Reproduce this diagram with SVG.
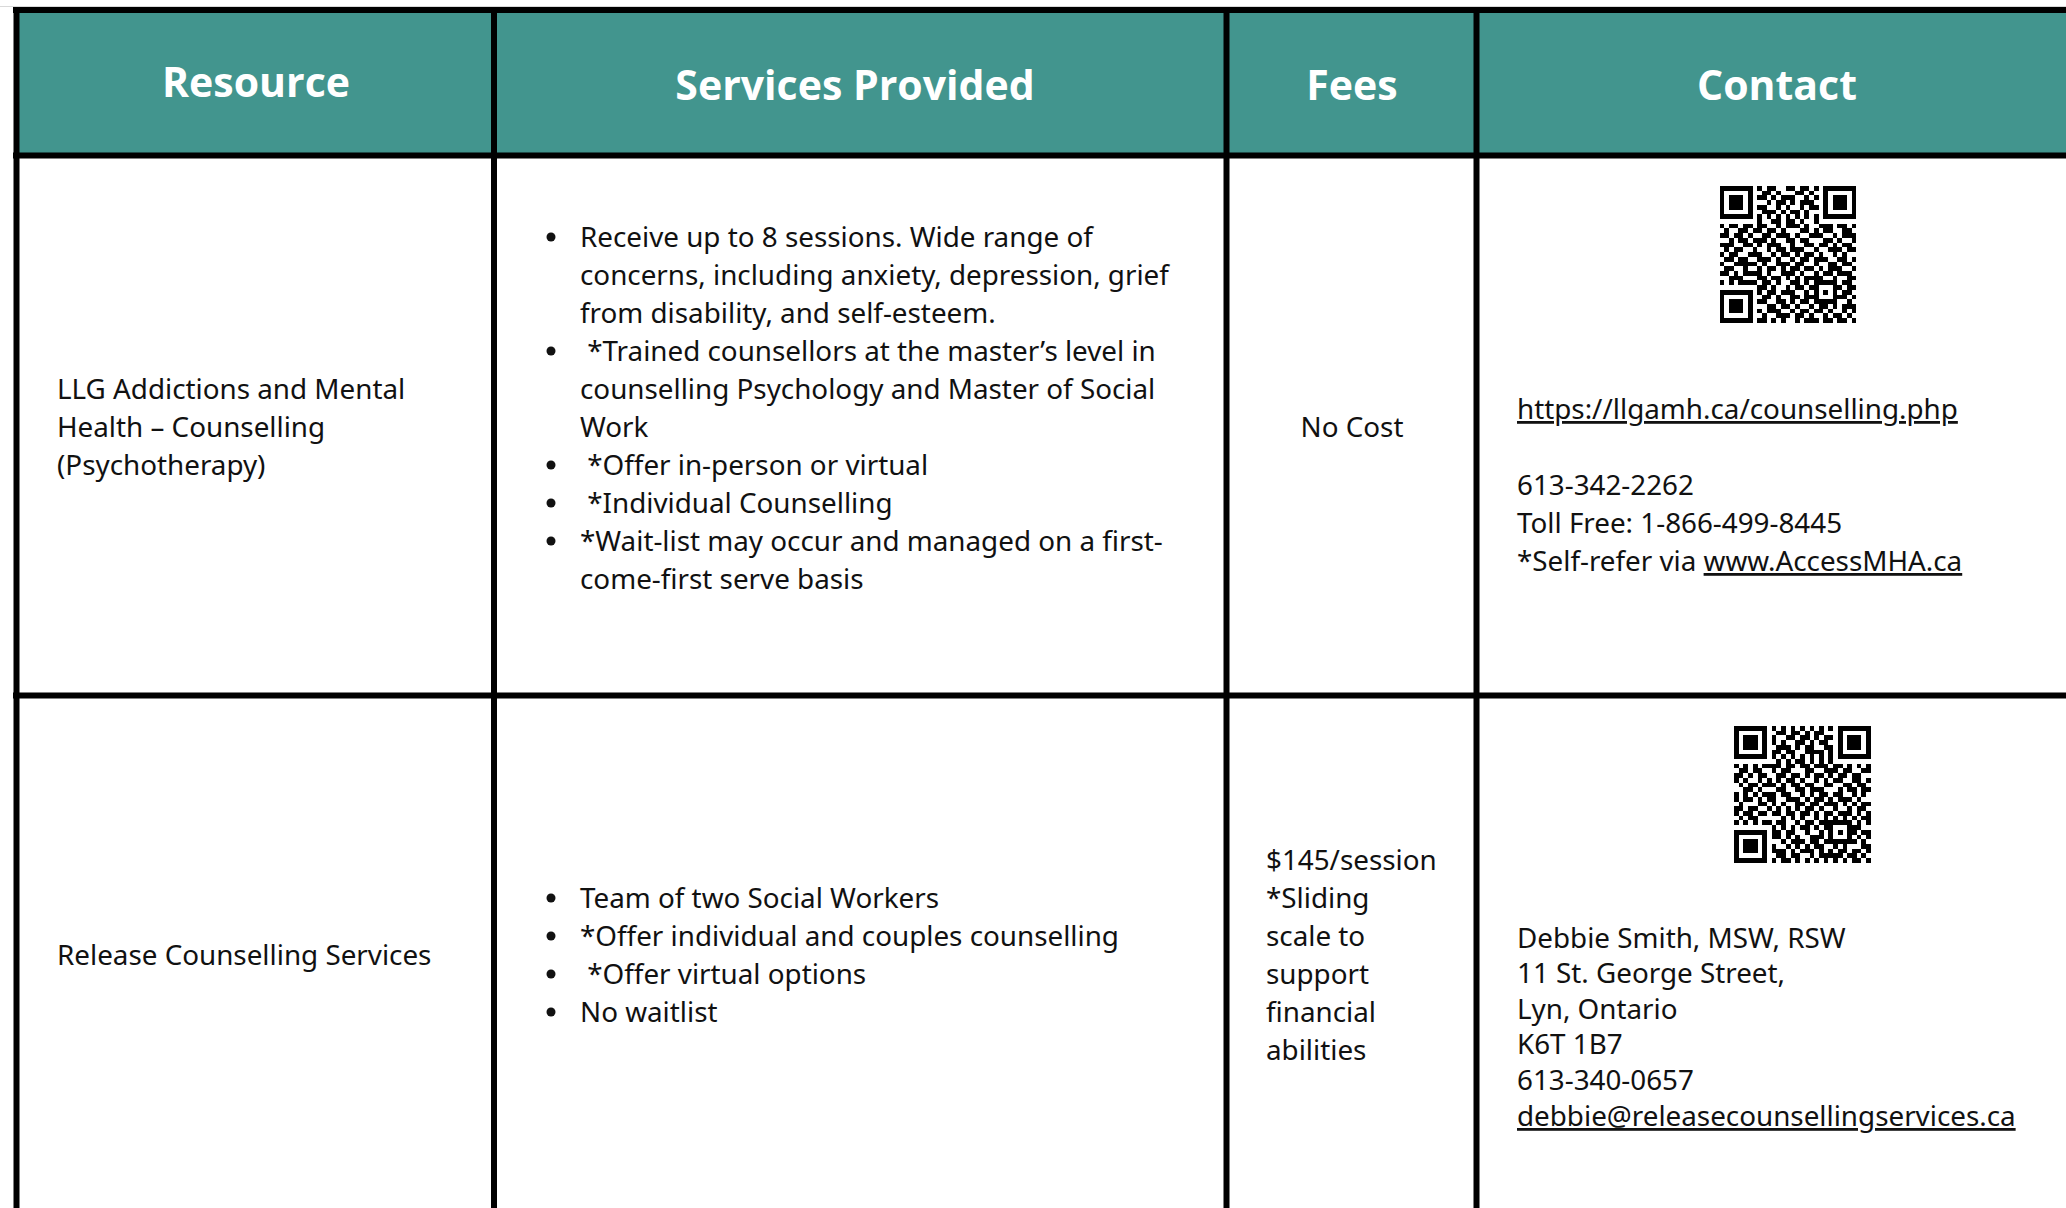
<svg xmlns="http://www.w3.org/2000/svg" xmlns:xlink="http://www.w3.org/1999/xlink" width="2066" height="1208" viewBox="0 0 2066 1208">
<style>
.hd{font-family:"Open Sans","Noto Sans",sans-serif;font-weight:700;font-size:41px;fill:#ffffff;text-anchor:middle}
.tx{font-family:"Noto Sans","Open Sans",sans-serif;font-size:27.8px;fill:#111111}
.ul{text-decoration:underline}
.bl{fill:#111111}
.ln{stroke:#000000;stroke-width:6;fill:none}
</style>
<defs>
<path id="qr" shape-rendering="crispEdges" fill="#000" d="M0 0h7v1h-7zM8 0h1v1h-1zM10 0h2v1h-2zM14 0h2v1h-2zM17 0h2v1h-2zM20 0h1v1h-1zM22 0h7v1h-7zM0 1h1v1h-1zM6 1h1v1h-1zM9 1h2v1h-2zM12 1h1v1h-1zM16 1h2v1h-2zM19 1h1v1h-1zM22 1h1v1h-1zM28 1h1v1h-1zM0 2h1v1h-1zM2 2h3v1h-3zM6 2h1v1h-1zM8 2h2v1h-2zM11 2h1v1h-1zM13 2h3v1h-3zM18 2h1v1h-1zM20 2h1v1h-1zM22 2h1v1h-1zM24 2h3v1h-3zM28 2h1v1h-1zM0 3h1v1h-1zM2 3h3v1h-3zM6 3h1v1h-1zM10 3h1v1h-1zM12 3h2v1h-2zM15 3h1v1h-1zM17 3h3v1h-3zM22 3h1v1h-1zM24 3h3v1h-3zM28 3h1v1h-1zM0 4h1v1h-1zM2 4h3v1h-3zM6 4h1v1h-1zM8 4h2v1h-2zM12 4h1v1h-1zM14 4h1v1h-1zM17 4h1v1h-1zM19 4h2v1h-2zM22 4h1v1h-1zM24 4h3v1h-3zM28 4h1v1h-1zM0 5h1v1h-1zM6 5h1v1h-1zM9 5h3v1h-3zM13 5h1v1h-1zM15 5h2v1h-2zM18 5h1v1h-1zM22 5h1v1h-1zM28 5h1v1h-1zM0 6h7v1h-7zM8 6h1v1h-1zM10 6h1v1h-1zM12 6h1v1h-1zM14 6h1v1h-1zM16 6h1v1h-1zM18 6h1v1h-1zM20 6h1v1h-1zM22 6h7v1h-7zM8 7h1v1h-1zM11 7h2v1h-2zM14 7h2v1h-2zM17 7h1v1h-1zM20 7h1v1h-1zM0 8h1v1h-1zM2 8h2v1h-2zM5 8h2v1h-2zM8 8h2v1h-2zM12 8h1v1h-1zM14 8h3v1h-3zM18 8h1v1h-1zM21 8h3v1h-3zM25 8h2v1h-2zM28 8h1v1h-1zM1 9h1v1h-1zM4 9h2v1h-2zM7 9h2v1h-2zM10 9h2v1h-2zM13 9h1v1h-1zM17 9h2v1h-2zM20 9h1v1h-1zM22 9h2v1h-2zM26 9h2v1h-2zM0 10h2v1h-2zM3 10h2v1h-2zM6 10h1v1h-1zM9 10h2v1h-2zM12 10h3v1h-3zM16 10h1v1h-1zM19 10h3v1h-3zM24 10h1v1h-1zM26 10h3v1h-3zM2 11h1v1h-1zM4 11h2v1h-2zM7 11h3v1h-3zM11 11h1v1h-1zM14 11h2v1h-2zM17 11h2v1h-2zM22 11h2v1h-2zM25 11h1v1h-1zM28 11h1v1h-1zM0 12h3v1h-3zM5 12h2v1h-2zM8 12h1v1h-1zM10 12h3v1h-3zM15 12h1v1h-1zM18 12h2v1h-2zM21 12h2v1h-2zM24 12h1v1h-1zM26 12h2v1h-2zM1 13h1v1h-1zM3 13h2v1h-2zM7 13h1v1h-1zM10 13h1v1h-1zM12 13h2v1h-2zM15 13h3v1h-3zM20 13h1v1h-1zM23 13h3v1h-3zM27 13h2v1h-2zM0 14h1v1h-1zM2 14h2v1h-2zM6 14h3v1h-3zM11 14h1v1h-1zM13 14h2v1h-2zM16 14h1v1h-1zM18 14h2v1h-2zM21 14h1v1h-1zM24 14h1v1h-1zM26 14h1v1h-1zM1 15h2v1h-2zM4 15h2v1h-2zM8 15h3v1h-3zM12 15h1v1h-1zM15 15h1v1h-1zM17 15h2v1h-2zM20 15h3v1h-3zM25 15h2v1h-2zM28 15h1v1h-1zM0 16h1v1h-1zM3 16h5v1h-5zM9 16h1v1h-1zM12 16h3v1h-3zM16 16h2v1h-2zM20 16h1v1h-1zM23 16h2v1h-2zM26 16h2v1h-2zM1 17h2v1h-2zM5 17h1v1h-1zM8 17h1v1h-1zM10 17h2v1h-2zM13 17h1v1h-1zM15 17h2v1h-2zM18 17h2v1h-2zM21 17h1v1h-1zM23 17h3v1h-3zM28 17h1v1h-1zM0 18h2v1h-2zM3 18h1v1h-1zM5 18h4v1h-4zM10 18h1v1h-1zM13 18h3v1h-3zM17 18h1v1h-1zM20 18h1v1h-1zM22 18h2v1h-2zM25 18h3v1h-3zM2 19h3v1h-3zM8 19h2v1h-2zM11 19h2v1h-2zM14 19h1v1h-1zM16 19h1v1h-1zM18 19h4v1h-4zM24 19h1v1h-1zM27 19h2v1h-2zM0 20h1v1h-1zM2 20h1v1h-1zM4 20h4v1h-4zM9 20h2v1h-2zM12 20h1v1h-1zM15 20h2v1h-2zM18 20h1v1h-1zM20 20h5v1h-5zM26 20h2v1h-2zM8 21h2v1h-2zM11 21h1v1h-1zM14 21h1v1h-1zM16 21h2v1h-2zM19 21h2v1h-2zM24 21h2v1h-2zM27 21h2v1h-2zM0 22h7v1h-7zM8 22h1v1h-1zM10 22h2v1h-2zM13 22h3v1h-3zM18 22h1v1h-1zM20 22h1v1h-1zM22 22h1v1h-1zM24 22h1v1h-1zM26 22h2v1h-2zM0 23h1v1h-1zM6 23h1v1h-1zM9 23h2v1h-2zM12 23h1v1h-1zM15 23h2v1h-2zM18 23h3v1h-3zM24 23h3v1h-3zM28 23h1v1h-1zM0 24h1v1h-1zM2 24h3v1h-3zM6 24h1v1h-1zM8 24h2v1h-2zM12 24h2v1h-2zM15 24h1v1h-1zM17 24h2v1h-2zM20 24h5v1h-5zM27 24h1v1h-1zM0 25h1v1h-1zM2 25h3v1h-3zM6 25h1v1h-1zM10 25h2v1h-2zM13 25h2v1h-2zM16 25h1v1h-1zM19 25h1v1h-1zM21 25h2v1h-2zM24 25h1v1h-1zM26 25h3v1h-3zM0 26h1v1h-1zM2 26h3v1h-3zM6 26h1v1h-1zM8 26h1v1h-1zM10 26h3v1h-3zM15 26h1v1h-1zM17 26h2v1h-2zM20 26h2v1h-2zM23 26h1v1h-1zM26 26h1v1h-1zM28 26h1v1h-1zM0 27h1v1h-1zM6 27h1v1h-1zM9 27h1v1h-1zM12 27h3v1h-3zM16 27h2v1h-2zM19 27h1v1h-1zM22 27h1v1h-1zM24 27h2v1h-2zM27 27h1v1h-1zM0 28h7v1h-7zM8 28h2v1h-2zM11 28h1v1h-1zM13 28h1v1h-1zM16 28h1v1h-1zM18 28h3v1h-3zM22 28h2v1h-2zM25 28h2v1h-2zM28 28h1v1h-1z"/>
</defs>
<rect x="0" y="0" width="2066" height="1208" fill="#ffffff"/>
<line x1="0" y1="6.5" x2="2066" y2="6.5" stroke="#d9d9d9" stroke-width="1"/>
<rect x="16" y="10" width="2050" height="145" fill="#42958e"/>

<g id="connectors">
<line class="ln" x1="13" y1="10" x2="2066" y2="10"/>
<line class="ln" x1="16.5" y1="7" x2="16.5" y2="1208"/>
<line class="ln" x1="494" y1="7" x2="494" y2="1208"/>
<line class="ln" x1="1226.5" y1="7" x2="1226.5" y2="1208"/>
<line class="ln" x1="1476.5" y1="7" x2="1476.5" y2="1208"/>
<line class="ln" x1="13" y1="155.5" x2="2066" y2="155.5"/>
<line class="ln" x1="13" y1="695.5" x2="2066" y2="695.5"/>
</g>

<g id="header">
<text class="hd" x="256" y="97">Resource</text>
<text class="hd" x="855" y="100">Services Provided</text>
<text class="hd" x="1352" y="100">Fees</text>
<text class="hd" x="1777" y="100">Contact</text>
</g>

<g id="row1-resource">
<text class="tx" x="57" y="399">LLG Addictions and Mental</text>
<text class="tx" x="57" y="437">Health – Counselling</text>
<text class="tx" x="57" y="475">(Psychotherapy)</text>
</g>

<g id="row1-services">
<circle class="bl" cx="551" cy="237" r="4.5"/>
<circle class="bl" cx="551" cy="351" r="4.5"/>
<circle class="bl" cx="551" cy="465" r="4.5"/>
<circle class="bl" cx="551" cy="503" r="4.5"/>
<circle class="bl" cx="551" cy="541" r="4.5"/>
<text class="tx" x="580" y="247">Receive up to 8 sessions. Wide range of</text>
<text class="tx" x="580" y="285">concerns, including anxiety, depression, grief</text>
<text class="tx" x="580" y="323">from disability, and self-esteem.</text>
<text class="tx" x="580" y="361" xml:space="preserve"> *Trained counsellors at the master’s level in</text>
<text class="tx" x="580" y="399">counselling Psychology and Master of Social</text>
<text class="tx" x="580" y="437">Work</text>
<text class="tx" x="580" y="475" xml:space="preserve"> *Offer in-person or virtual</text>
<text class="tx" x="580" y="513" xml:space="preserve"> *Individual Counselling</text>
<text class="tx" x="580" y="551">*Wait-list may occur and managed on a first-</text>
<text class="tx" x="580" y="589">come-first serve basis</text>
</g>

<g id="row1-fees">
<text class="tx" x="1352" y="437" text-anchor="middle">No Cost</text>
</g>

<g id="row1-contact">
<use xlink:href="#qr" href="#qr" transform="translate(1719.5 186) scale(4.72)"/>
<text class="tx ul" x="1517" y="419">https://llgamh.ca/counselling.php</text>
<text class="tx" x="1517" y="495">613-342-2262</text>
<text class="tx" x="1517" y="533">Toll Free: 1-866-499-8445</text>
<text class="tx" x="1517" y="571">*Self-refer via <tspan class="ul">www.AccessMHA.ca</tspan></text>
</g>

<g id="row2-resource">
<text class="tx" x="57" y="965">Release Counselling Services</text>
</g>

<g id="row2-services">
<circle class="bl" cx="551" cy="898" r="4.5"/>
<circle class="bl" cx="551" cy="936" r="4.5"/>
<circle class="bl" cx="551" cy="974" r="4.5"/>
<circle class="bl" cx="551" cy="1012" r="4.5"/>
<text class="tx" x="580" y="908">Team of two Social Workers</text>
<text class="tx" x="580" y="946">*Offer individual and couples counselling</text>
<text class="tx" x="580" y="984" xml:space="preserve"> *Offer virtual options</text>
<text class="tx" x="580" y="1022">No waitlist</text>
</g>

<g id="row2-fees">
<text class="tx" x="1266" y="870">$145/session</text>
<text class="tx" x="1266" y="908">*Sliding</text>
<text class="tx" x="1266" y="946">scale to</text>
<text class="tx" x="1266" y="984">support</text>
<text class="tx" x="1266" y="1022">financial</text>
<text class="tx" x="1266" y="1060">abilities</text>
</g>

<g id="row2-contact">
<use xlink:href="#qr" href="#qr" transform="translate(1734 726) scale(4.72) matrix(0 1 1 0 0 0)"/>
<text class="tx" x="1517" y="948">Debbie Smith, MSW, RSW</text>
<text class="tx" x="1517" y="983">11 St. George Street,</text>
<text class="tx" x="1517" y="1019">Lyn, Ontario</text>
<text class="tx" x="1517" y="1054">K6T 1B7</text>
<text class="tx" x="1517" y="1090">613-340-0657</text>
<text class="tx ul" x="1517" y="1126">debbie@releasecounsellingservices.ca</text>
</g>
</svg>
